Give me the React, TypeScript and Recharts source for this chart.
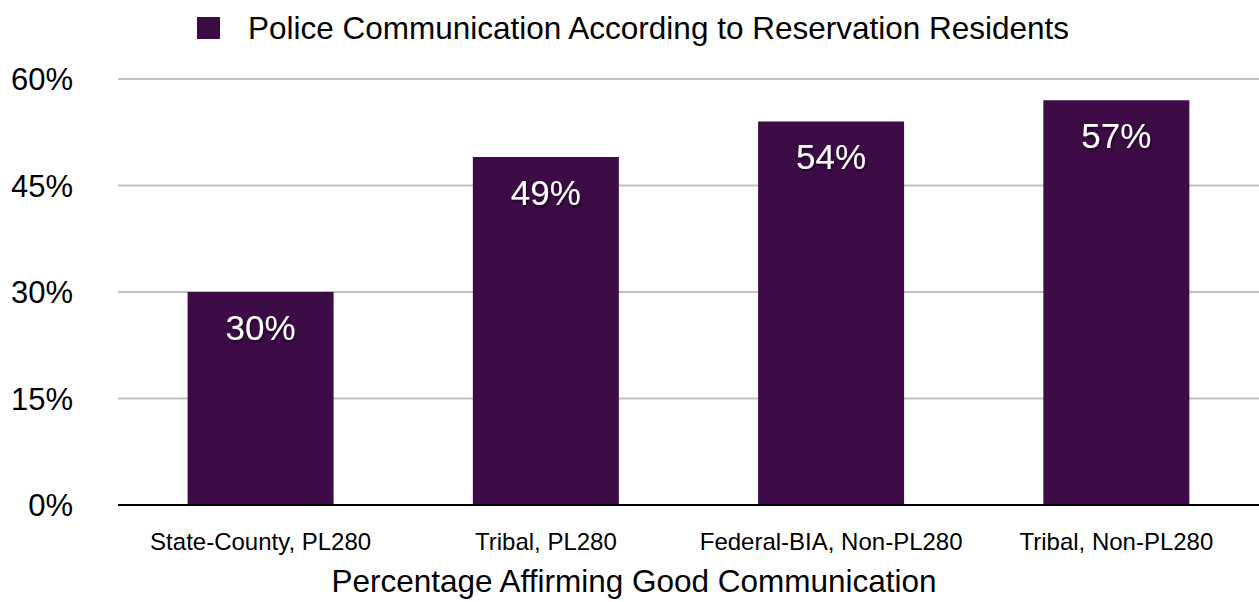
import { BarChart, Bar, XAxis, YAxis, CartesianGrid, Legend, LabelList } from "recharts";

const categories = ["State-County, PL280", "Tribal, PL280", "Federal-BIA, Non-PL280", "Tribal, Non-PL280"];
const shares = [0.3, 0.49, 0.54, 0.57];
const yTicks = [0, 0.15, 0.3, 0.45, 0.6];

const SERIES_NAME = "Police Communication According to Reservation Residents";
const AXIS_TITLE = "Percentage Affirming Good Communication";
const BAR_COLOR = "#3d0c47";
const FONT = "'Liberation Sans', Arial, sans-serif";

const data = categories.map((name, i) => ({ name, value: shares[i] }));

const pct = (v: number) => `${Math.round(v * 100)}%`;

// legend drawn as a fixed-height strip so the plot area lands where it should
const LegendStrip = () => (
  <div
    style={{
      height: 40,
      display: "flex",
      alignItems: "center",
      justifyContent: "center",
      fontFamily: FONT,
      fontSize: 31.5,
      color: "#000",
    }}
  >
    <span style={{ display: "inline-block", width: 23, height: 22, background: BAR_COLOR, marginRight: 28 }} />
    <span>{SERIES_NAME}</span>
  </div>
);

const AxisTitle = (props: any) => {
  const { viewBox } = props;
  return (
    <text x={634} y={viewBox.y + viewBox.height - 10} textAnchor="middle" fontFamily={FONT} fontSize={31.5} fill="#000">
      {AXIS_TITLE}
    </text>
  );
};

export default function App() {
  return (
    <div style={{ position: "absolute", left: 0, top: 0, width: 1259, height: 602, background: "#fff" }}>
      <BarChart width={1259} height={602} data={data} margin={{ top: 39, right: 0, bottom: 0, left: 0 }} barCategoryGap="24.4%">
        <defs>
          <filter id="labelShadow" x="-20%" y="-20%" width="140%" height="160%">
            <feDropShadow dx="1" dy="2" stdDeviation="1.5" floodColor="#000" floodOpacity="0.6" />
          </filter>
        </defs>
        <CartesianGrid vertical={false} stroke="#bfbfbf" strokeWidth={2} />
        <XAxis
          dataKey="name"
          height={97}
          axisLine={{ stroke: "#000", strokeWidth: 2 }}
          tickLine={false}
          tickSize={0}
          tickMargin={28}
          tick={{ fill: "#000", fontSize: 24, fontFamily: FONT }}
          interval={0}
          label={<AxisTitle />}
        />
        <YAxis
          width={118}
          domain={[0, 0.6]}
          ticks={yTicks}
          tickFormatter={pct}
          axisLine={false}
          tickLine={false}
          tickSize={0}
          tickMargin={45}
          tick={{ fill: "#000", fontSize: 31, fontFamily: FONT }}
        />
        <Legend verticalAlign="top" align="center" content={<LegendStrip />} wrapperStyle={{ top: 8, left: 0, width: 1266 }} />
        <Bar dataKey="value" name={SERIES_NAME} fill={BAR_COLOR} isAnimationActive={false}>
          <LabelList
            dataKey="value"
            position="insideTop"
            offset={23}
            formatter={(v: any) => pct(Number(v))}
            fill="#fff"
            fontSize={35}
            fontFamily={FONT}
            filter="url(#labelShadow)"
          />
        </Bar>
      </BarChart>
    </div>
  );
}
